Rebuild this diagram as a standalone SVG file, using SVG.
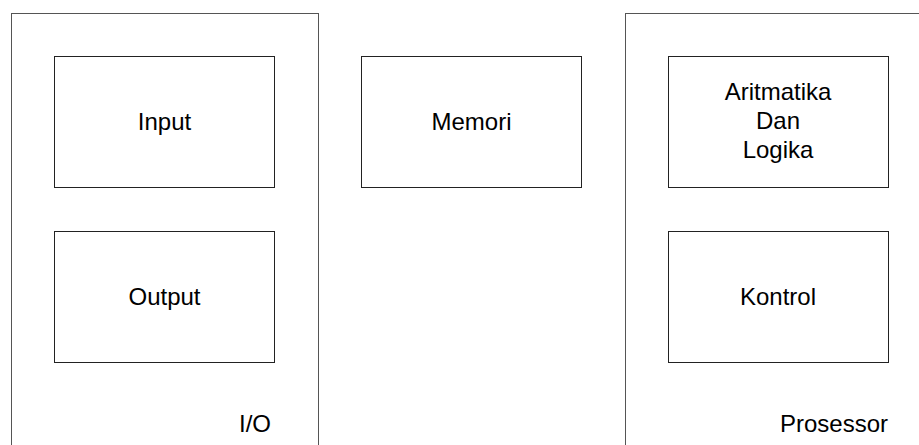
<svg xmlns="http://www.w3.org/2000/svg" width="919" height="445" viewBox="0 0 919 445">
<style>
.outer{fill:none;stroke:#555;stroke-width:1}
.box{fill:#fff;stroke:#222;stroke-width:1}
text{font-family:"Liberation Sans",Arial,sans-serif;font-size:24px;fill:#000}
.c{text-anchor:middle}
</style>
<rect width="919" height="445" fill="#fff"/>
<g id="io">
<rect class="outer" x="11.5" y="13.5" width="307" height="460"/>
<text x="239" y="432">I/O</text>
</g>
<g id="processor">
<rect class="outer" x="625.5" y="13.5" width="320" height="460"/>
<text x="780" y="432">Prosessor</text>
</g>
<g id="input">
<rect class="box" x="54.5" y="56.5" width="220" height="131"/>
<text class="c" x="164.5" y="130">Input</text>
</g>
<g id="output">
<rect class="box" x="54.5" y="231.5" width="220" height="131"/>
<text class="c" x="164.5" y="304.5">Output</text>
</g>
<g id="memori">
<rect class="box" x="361.5" y="56.5" width="220" height="131"/>
<text class="c" x="471.5" y="130">Memori</text>
</g>
<g id="alu">
<rect class="box" x="668.5" y="56.5" width="220" height="131"/>
<text class="c" x="778" y="100">Aritmatika</text>
<text class="c" x="778" y="129">Dan</text>
<text class="c" x="778" y="158">Logika</text>
</g>
<g id="kontrol">
<rect class="box" x="668.5" y="231.5" width="220" height="131"/>
<text class="c" x="778" y="304.5">Kontrol</text>
</g>
<g id="connectors"></g>
</svg>
